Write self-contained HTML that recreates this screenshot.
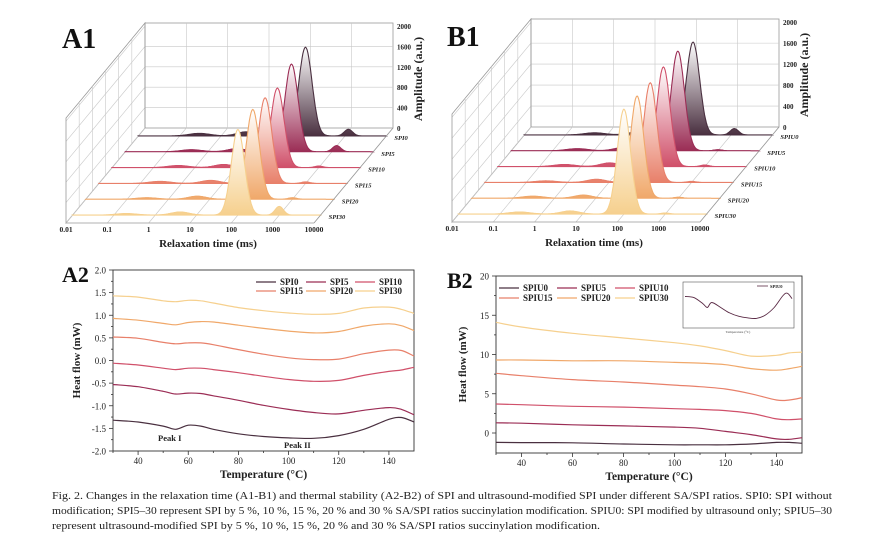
<!DOCTYPE html>
<html><head><meta charset="utf-8"><style>
html,body{margin:0;padding:0;background:#fff;width:870px;height:542px;overflow:hidden}
svg{display:block;font-family:"Liberation Serif",serif}
</style></head><body>
<svg id="fig" width="870" height="542" viewBox="0 0 870 542"></svg>
<script>
// ---------- Data ----------
const rowColors = ["#4a3040","#9b2d55","#d0506a","#e8806a","#f0a86a","#f6d08e"];
const a1Labels = ["SPI0","SPI5","SPI10","SPI15","SPI20","SPI30"];
const b1Labels = ["SPIU0","SPIU5","SPIU10","SPIU15","SPIU20","SPIU30"];
const decadeLabels = ["0.01","0.1","1","10","100","1000","10000"];
const ampTicks = [0,400,800,1200,1600,2000];
const a1MainT = [110,105,100,105,110,100];
const a1MainAmp = [1740,1720,1560,1680,1760,1680];
const a1MinorT1 = [0.3,0.4,0.4,0.3,0.3,0.2];
const a1MinorAmp1 = [50,40,40,40,30,30];
const a1MinorT2 = [4,5,5,5,5,4];
const a1MinorAmp2 = [80,60,60,60,60,60];
const a1MinorT3 = [1200,1300,1000,1000,1000,1000];
const a1MinorAmp3 = [130,120,30,30,30,170];
const b1MainT = [120,107,100,100,100,100];
const b1MainAmp = [1770,1900,1900,1900,1950,2000];
const b1MinorT1 = [0.5,0.4,0.4,0.3,0.3,0.3];
const b1MinorAmp1 = [40,40,40,30,40,40];
const b1MinorT2 = [5,5,5,5,5,5];
const b1MinorAmp2 = [50,60,70,60,60,60];
const b1MinorT3 = [1200,1000,1000,1000,1000,1000];
const b1MinorAmp3 = [120,20,30,20,20,20];

const a2Temps = [30,40,50,55,60,65,70,80,90,100,110,120,130,140,145,150];
const spi0 = [-1.32,-1.36,-1.45,-1.52,-1.43,-1.45,-1.52,-1.62,-1.68,-1.71,-1.72,-1.66,-1.52,-1.3,-1.26,-1.36];
const spi5 = [-0.53,-0.58,-0.68,-0.74,-0.72,-0.73,-0.78,-0.88,-0.99,-1.08,-1.15,-1.18,-1.1,-1.04,-1.08,-1.2];
const spi10 = [-0.06,-0.1,-0.17,-0.2,-0.17,-0.17,-0.2,-0.27,-0.35,-0.42,-0.46,-0.44,-0.33,-0.24,-0.21,-0.15];
const spi15 = [0.52,0.49,0.4,0.37,0.39,0.39,0.35,0.24,0.14,0.06,0.02,0.03,0.15,0.23,0.22,0.1];
const spi20 = [0.93,0.89,0.82,0.79,0.84,0.86,0.85,0.78,0.71,0.65,0.61,0.64,0.76,0.81,0.77,0.66];
const spi30 = [1.43,1.4,1.32,1.3,1.33,1.32,1.27,1.17,1.1,1.05,1.02,1.04,1.16,1.18,1.13,1.04];
const a2YTicks = [-2.0,-1.5,-1.0,-0.5,0.0,0.5,1.0,1.5,2.0];
const xTicks = [40,60,80,100,120,140];

const b2Temps = [30,40,60,80,100,110,120,130,140,145,150];
const spiu0 = [-1.2,-1.22,-1.25,-1.4,-1.5,-1.5,-1.5,-1.4,-1.2,-1.2,-1.3];
const spiu5 = [1.3,1.25,1.05,0.9,0.75,0.6,0.2,-0.2,-0.75,-0.8,-0.6];
const spiu10 = [3.7,3.6,3.4,3.3,3.1,3.0,2.85,2.5,1.8,1.7,1.8];
const spiu15 = [7.6,7.3,6.8,6.5,6.1,5.9,5.6,5.0,4.2,4.2,4.5];
const spiu20 = [9.3,9.3,9.2,9.2,9.0,8.9,8.7,8.2,8.0,8.2,8.5];
const spiu30 = [14.1,13.5,12.7,12.1,11.5,11.1,10.5,9.8,9.9,10.2,10.3];
const b2YTicks = [0,5,10,15,20];
const insetTemps = [30,40,50,55,60,70,80,90,100,110,120,130,140,145,150];
const insetVals = [-1.32,-1.34,-1.45,-1.52,-1.43,-1.52,-1.62,-1.68,-1.71,-1.72,-1.66,-1.52,-1.3,-1.26,-1.36];

// ---------- helpers ----------
const NS="http://www.w3.org/2000/svg";
const svg=document.getElementById('fig');
function mk(tag,attrs,parent){const e=document.createElementNS(NS,tag);for(const k in attrs)e.setAttribute(k,attrs[k]);(parent||svg).appendChild(e);return e;}
function txt(s,attrs,parent){const e=mk('text',attrs,parent);e.textContent=s;return e;}
function smooth(pts){let d="M"+pts[0][0].toFixed(1)+","+pts[0][1].toFixed(1);
 for(let i=0;i<pts.length-1;i++){const p0=pts[Math.max(i-1,0)],p1=pts[i],p2=pts[i+1],p3=pts[Math.min(i+2,pts.length-1)];
  const c1=[p1[0]+(p2[0]-p0[0])/6,p1[1]+(p2[1]-p0[1])/6],c2=[p2[0]-(p3[0]-p1[0])/6,p2[1]-(p3[1]-p1[1])/6];
  d+="C"+c1[0].toFixed(1)+","+c1[1].toFixed(1)+" "+c2[0].toFixed(1)+","+c2[1].toFixed(1)+" "+p2[0].toFixed(1)+","+p2[1].toFixed(1);}
 return d;}
const defs=mk('defs',{});

// ---------- 3D panels ----------
function panel3D(id,title,tx,ty,bx,by,bh,labels,mainT,mainAmp,t1,a1,t2,a2,t3,a3){
 const g=mk('g',{});
 
 
 const bw=248,dx=-79,dy=95,bottom=by+bh,dec=bw/6;
 const ampS=a=>a*bh/2060;
 txt(title,{x:tx,y:ty,'font-size':28,'font-weight':'bold',fill:'#111'},g);
 const grid='#c8c8c8';
 mk('rect',{x:bx,y:by,width:bw,height:bh,fill:'none',stroke:'#999','stroke-width':0.8},g);
 for(let k=1;k<6;k++) mk('line',{x1:bx+k*dec,y1:by,x2:bx+k*dec,y2:bottom,stroke:grid,'stroke-width':0.6},g);
 ampTicks.forEach(a=>{const y=bottom-ampS(a);
  if(a>0&&a<2000) mk('line',{x1:bx,y1:y,x2:bx+bw,y2:y,stroke:grid,'stroke-width':0.6},g);
  mk('line',{x1:bx,y1:y,x2:bx+dx,y2:y+dy,stroke:grid,'stroke-width':0.6},g);
  txt(String(a),{x:bx+bw+4,y:y+3,'font-size':7,'font-weight':'bold',fill:'#222'},g);});
 mk('polygon',{points:`${bx},${by} ${bx},${bottom} ${bx+dx},${bottom+dy} ${bx+dx},${by+dy}`,fill:'none',stroke:'#999','stroke-width':0.8},g);
 for(let k=1;k<6;k++){const x=bx+dx*k/6,y=dy*k/6;mk('line',{x1:x,y1:by+y,x2:x,y2:bottom+y,stroke:grid,'stroke-width':0.6},g);}
 for(let k=0;k<=6;k++) mk('line',{x1:bx+k*dec,y1:bottom,x2:bx+k*dec+dx,y2:bottom+dy,stroke:grid,'stroke-width':0.6},g);
 mk('line',{x1:bx+dx,y1:bottom+dy,x2:bx+bw+dx,y2:bottom+dy,stroke:'#999','stroke-width':0.8},g);
 decadeLabels.forEach((l,k)=>txt(l,{x:bx+dx+k*dec,y:bottom+dy+9,'font-size':7.5,'font-weight':'bold','text-anchor':'middle',fill:'#222'},g));
 const at=txt('Amplitude (a.u.)',{x:0,y:0,'font-size':12,'font-weight':'bold','text-anchor':'middle',fill:'#222',transform:`translate(${bx+bw+29},${by+56}) rotate(-90)`},g);
 
 const xt=txt('Relaxation time (ms)',{x:bx+dx+142,y:bottom+dy+24,'font-size':11,'font-weight':'bold','text-anchor':'middle',fill:'#222'},g);
 
 for(let i=0;i<6;i++){
  const d=(i+0.5)/6,x0=bx+dx*d,y0=bottom+dy*d,col=rowColors[i];
  const gid=id+'grad'+i;
  const lg=mk('linearGradient',{id:gid,x1:0,y1:0,x2:0,y2:1},defs);
  mk('stop',{offset:0,'stop-color':'#fff'},lg);mk('stop',{offset:1,'stop-color':col},lg);
  const peaks=[[mainT[i],mainAmp[i],0.16],[t1[i],a1[i],0.25],[t2[i],a2[i],0.22],[t3[i],a3[i],0.1]];
  let dd=`M${x0},${y0}`;
  for(let lt=-2;lt<=4.0001;lt+=0.02){let v=0;peaks.forEach(p=>{const z=(lt-Math.log10(p[0]))/p[2];v+=p[1]*Math.exp(-0.5*z*z);});
   dd+=`L${(x0+(lt+2)*dec).toFixed(1)},${(y0-ampS(v)).toFixed(1)}`;}
  dd+=`L${x0+bw},${y0}Z`;
  const p=mk('path',{d:dd,fill:`url(#${gid})`,stroke:col,'stroke-width':1.1},g);
  
  
  const rl=txt(labels[i],{x:bx+bw+dx*d+8,y:y0+4,'font-size':6.5,'font-weight':'bold','font-style':'italic',fill:'#222'},g);
  
 }
 mk('line',{x1:bx+bw,y1:bottom,x2:bx+bw+dx,y2:bottom+dy,stroke:'#999','stroke-width':0.8},g);
}
panel3D('a1','A1',62,48,145,23,105,a1Labels,a1MainT,a1MainAmp,a1MinorT1,a1MinorAmp1,a1MinorT2,a1MinorAmp2,a1MinorT3,a1MinorAmp3);
panel3D('b1','B1',447,46,531,19,108,b1Labels,b1MainT,b1MainAmp,b1MinorT1,b1MinorAmp1,b1MinorT2,b1MinorAmp2,b1MinorT3,b1MinorAmp3);

// ---------- 2D panels ----------
function panel2D(id,o){
 const g=mk('g',{});
 
 
 const X=t=>o.l+(t-30)/120*(o.r-o.l), Y=v=>o.y0+(v-o.v0)*(o.y1-o.y0)/(o.v1-o.v0);
 mk('rect',{x:o.l,y:o.t,width:o.r-o.l,height:o.b-o.t,fill:'none',stroke:'#333','stroke-width':0.9},g);
 o.yTicks.forEach((v,i)=>{const y=Y(v);
  mk('line',{x1:o.l,y1:y,x2:o.l-4,y2:y,stroke:'#333','stroke-width':0.8},g);
  txt(o.fmt(v),{x:o.l-7,y:y+3.5,'font-size':9,'text-anchor':'end',fill:'#222'},g);
  if(i<o.yTicks.length-1){const ym=Y((v+o.yTicks[i+1])/2);mk('line',{x1:o.l,y1:ym,x2:o.l-2,y2:ym,stroke:'#333','stroke-width':0.8},g);}
 });
 xTicks.forEach(t=>{const x=X(t);mk('line',{x1:x,y1:o.b,x2:x,y2:o.b+4,stroke:'#333','stroke-width':0.8},g);
  mk('line',{x1:X(t-10),y1:o.b,x2:X(t-10),y2:o.b+2,stroke:'#333','stroke-width':0.8},g);
  txt(String(t),{x:x,y:o.b+13,'font-size':9,'text-anchor':'middle',fill:'#222'},g);});
 txt(o.title,{x:o.tx,y:o.ty,'font-size':22,'font-weight':'bold',fill:'#111'},g);
 txt('Temperature (°C)',{x:(o.l+o.r)/2,y:o.b+27,'font-size':11.5,'font-weight':'bold','text-anchor':'middle',fill:'#222'},g);
 txt('Heat flow (mW)',{x:0,y:0,'font-size':11,'font-weight':'bold','text-anchor':'middle',fill:'#222',transform:`translate(${o.yl},${(o.t+o.b)/2}) rotate(-90)`},g);
 o.series.forEach((s,i)=>{
  const p=mk('path',{d:smooth(o.temps.map((t,j)=>[X(t),Y(s[j])])),fill:'none',stroke:rowColors[i],'stroke-width':1.2},g);
  
  
  const c=i%3,r=Math.floor(i/3),lx=o.legX[c],ly=o.legY[r];
  const le=mk('g',{},g);
  
  
  mk('line',{x1:lx-o.legLine,y1:ly-3,x2:lx-4,y2:ly-3,stroke:rowColors[i],'stroke-width':1.3},le);
  txt(o.names[i],{x:lx,y:ly,'font-size':9,'font-weight':'bold',fill:'#222'},le);
 });
 return {g,X,Y};
}
const A2=panel2D('a2',{l:113,r:414,t:270,b:451,y0:270,v0:2,y1:451,v1:-2,yTicks:a2YTicks,fmt:v=>v.toFixed(1),
 temps:a2Temps,series:[spi0,spi5,spi10,spi15,spi20,spi30],names:a1Labels,title:'A2',tx:62,ty:282,yl:80,
 legX:[280,330,379],legY:[285,294],legLine:24});
txt('Peak I',{x:158,y:441,'font-size':8.5,'font-weight':'bold',fill:'#222'},A2.g);
txt('Peak II',{x:284,y:448,'font-size':8.5,'font-weight':'bold',fill:'#222'},A2.g);
const B2=panel2D('b2',{l:496,r:802,t:276,b:453,y0:433,v0:0,y1:276,v1:20,yTicks:b2YTicks,fmt:v=>String(v),
 temps:b2Temps,series:[spiu0,spiu5,spiu10,spiu15,spiu20,spiu30],names:b1Labels,title:'B2',tx:447,ty:288,yl:466,
 legX:[523,581,639],legY:[291,301],legLine:24});
(function(){
 const g=mk('g',{},B2.g);
 
 
 const l=683,r=794,t=282,b=328;
 mk('rect',{x:l,y:t,width:r-l,height:b-t,fill:'#fff',stroke:'#555','stroke-width':0.6},g);
 const X=v=>l+2+(v-30)/120*(r-l-4),Y=v=>t+8+(v+1.2)/(-0.55)*(b-t-16);
 mk('path',{d:smooth(insetTemps.map((tt,j)=>[X(tt),Y(insetVals[j])])),fill:'none',stroke:'#5a2a45','stroke-width':0.9},g);
 mk('line',{x1:757,y1:286,x2:768,y2:286,stroke:'#5a2a45','stroke-width':0.8},g);
 txt('SPIU0',{x:770,y:288,'font-size':4.5,'font-weight':'bold',fill:'#222'},g);
 txt('Temperature (°C)',{x:738,y:333,'font-size':3.5,'text-anchor':'middle',fill:'#444'},g);
})();

// ---------- caption ----------
const cap=mk('text',{'font-size':10,fill:'#222'});


const capLines=[["Fig. 2.  Changes in the relaxation time (A1-B1) and thermal stability (A2-B2) of SPI and ultrasound-modified SPI under different SA/SPI ratios. SPI0: SPI without",780],
 ["modification; SPI5–30 represent SPI by 5 %, 10 %, 15 %, 20 % and 30 % SA/SPI ratios succinylation modification. SPIU0: SPI modified by ultrasound only; SPIU5–30",780],
 ["represent ultrasound-modified SPI by 5 %, 10 %, 15 %, 20 % and 30 % SA/SPI ratios succinylation modification.",548]];
capLines.forEach((c,i)=>{const ts=mk('tspan',{x:52,y:499+i*15,textLength:c[1],lengthAdjust:'spacingAndGlyphs'},cap);ts.textContent=c[0];});
</script>
</body></html>
